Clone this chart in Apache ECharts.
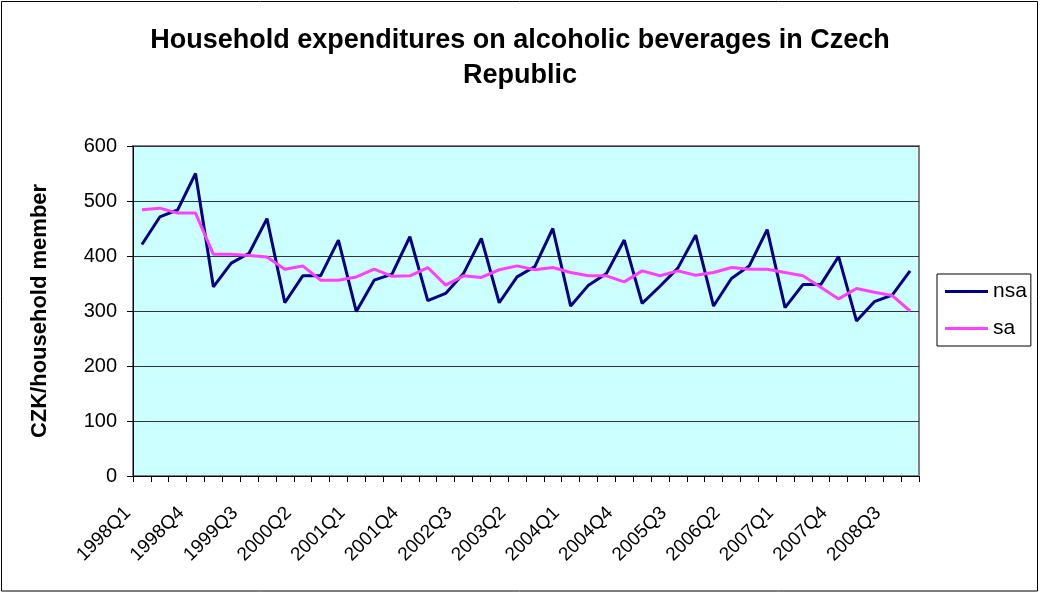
<!DOCTYPE html>
<html>
<head>
<meta charset="utf-8">
<script src="https://cdn.jsdelivr.net/npm/echarts@6/dist/echarts.min.js"></script>
<style>
  html, body { margin: 0; padding: 0; background: #fff; }
  #chart { width: 1040px; height: 593px; }
</style>
</head>
<body>
<div id="chart"></div>
<script>
// Quarters 1998Q1 .. 2008Q4
const quarters = [];
for (let y = 1998; y <= 2008; y++) {
  for (let q = 1; q <= 4; q++) quarters.push(y + 'Q' + q);
}

// Not seasonally adjusted (CZK per household member)
const nsa = [
  421, 471, 484, 550, 344, 387, 405, 468, 315, 364, 364, 429,
  299, 356, 367, 435, 319, 332, 368, 432, 315, 362, 381, 450,
  309, 347, 368, 429, 314, 345, 378, 438, 309, 359, 382, 448,
  306, 348, 348, 399, 282, 317, 329, 373
];

// Seasonally adjusted
const sa = [
  484, 487, 478, 478, 403, 403, 401, 398, 376, 382, 356, 356,
  362, 376, 363, 364, 379, 347, 364, 361, 375, 382, 375, 379,
  370, 364, 364, 353, 373, 364, 373, 365, 370, 379, 376, 376,
  370, 364, 343, 322, 341, 334, 328, 300
];

const yTicks = [0, 100, 200, 300, 400, 500, 600];

const FONT = '"Liberation Sans", Arial, sans-serif';

const chart = echarts.init(document.getElementById('chart'), null, { renderer: 'canvas' });

chart.setOption({
  backgroundColor: '#ffffff',
  animation: false,
  title: {
    text: 'Household expenditures on alcoholic beverages in Czech\nRepublic',
    left: 'center',
    top: 18,
    textStyle: {
      fontFamily: FONT,
      fontSize: 27,
      fontWeight: 'bold',
      color: '#000',
      lineHeight: 35
    }
  },
  legend: {
    orient: 'vertical',
    left: 937,
    top: 274,
    padding: [7, 4, 7, 8],
    itemGap: 16,
    itemWidth: 43,
    itemHeight: 3,
    icon: 'rect',
    borderColor: '#000',
    borderWidth: 1,
    textStyle: { fontFamily: FONT, fontSize: 21, color: '#000' },
    data: ['nsa', 'sa']
  },
  grid: {
    left: 133,
    right: 121,
    top: 146,
    bottom: 117,
    show: true,
    backgroundColor: '#ccffff',
    borderColor: '#808080',
    borderWidth: 2
  },
  xAxis: {
    type: 'category',
    data: quarters,
    boundaryGap: true,
    axisLine: { lineStyle: { color: '#000', width: 1 } },
    axisTick: { show: true, interval: 0, alignWithLabel: false, length: 6, lineStyle: { color: '#000' } },
    axisLabel: {
      interval: 2,
      rotate: 45,
      margin: 20,
      padding: [0, 20, 0, 0],
      fontFamily: FONT,
      fontSize: 19,
      color: '#000'
    },
    splitLine: { show: false }
  },
  yAxis: {
    type: 'value',
    min: yTicks[0],
    max: yTicks[yTicks.length - 1],
    interval: 100,
    name: 'CZK/household member',
    nameLocation: 'middle',
    nameGap: 82,
    nameRotate: 90,
    nameTextStyle: { fontFamily: FONT, fontSize: 22, fontWeight: 'bold', color: '#000' },
    axisLine: { show: true, lineStyle: { color: '#000', width: 1 } },
    axisTick: { show: true, inside: false, length: 6, lineStyle: { color: '#000' } },
    axisLabel: { fontFamily: FONT, fontSize: 20, color: '#000', margin: 16 },
    splitLine: { show: true, lineStyle: { color: '#333', width: 1 } }
  },
  series: [
    {
      name: 'nsa',
      type: 'line',
      data: nsa,
      symbol: 'none',
      lineStyle: { color: '#000080', width: 3 },
      itemStyle: { color: '#000080' },
      z: 3
    },
    {
      name: 'sa',
      type: 'line',
      data: sa,
      symbol: 'none',
      lineStyle: { color: '#ff40ff', width: 3 },
      itemStyle: { color: '#ff40ff' },
      z: 4
    }
  ],
  graphic: [
    {
      type: 'rect',
      shape: { x: 1.5, y: 1.5, width: 1036, height: 589.5 },
      style: { fill: 'none', stroke: '#000', lineWidth: 1 },
      silent: true,
      z: 100
    }
  ]
});
</script>
</body>
</html>
